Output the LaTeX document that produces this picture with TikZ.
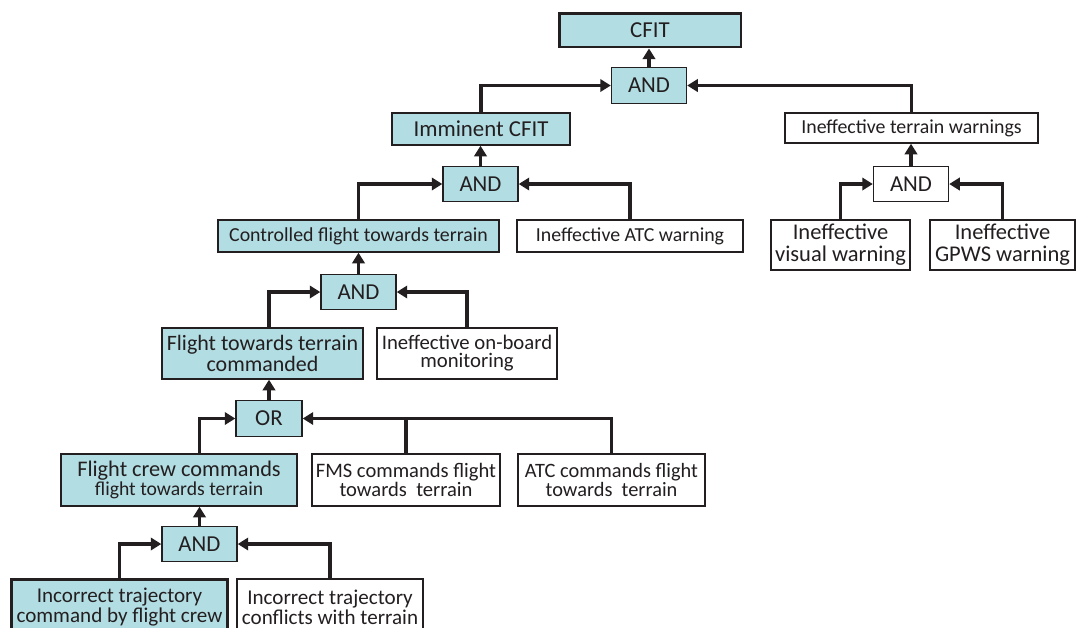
\documentclass[tikz,border=0pt]{standalone}
\usepackage{fontspec}
\setmainfont{Carlito}
\usetikzlibrary{
  arrows.meta,
  calc
}
\definecolor{eventblue}{RGB}{178,221,227}
\definecolor{inkgray}{RGB}{35,31,32}
\tikzset{
  box/.style={
    draw=inkgray,
    text=inkgray,
    line width=0.8pt,
    inner sep=0pt,
    align=center,
    font=\fontsize{11.3}{10.5}\selectfont
  },
  event/.style={box, fill=eventblue},
  basic/.style={box, fill=white},
  gate/.style={
    event,
    minimum width=1.5cm,
    minimum height=0.71cm,
    font=\fontsize{13}{13}\selectfont
  },
  link/.style={
    draw=inkgray,
    line width=1.8pt,
    -{Triangle[length=6pt,width=7pt]}
  },
  branch/.style={draw=inkgray, line width=1.8pt}
}

\begin{document}
\begin{tikzpicture}[x=0.02cm, y=-0.02cm]
\useasboundingbox (0,0) rectangle (1077,627);
\clip (0,0) rectangle (1077,627);
% top of the tree
\node[event, line width=1.7pt, minimum width=3.64cm, minimum height=0.68cm,
  font=\fontsize{13}{13}\selectfont] (cfit) at (650,30) {CFIT};
\node[gate] (andA) at (649,85.5) {AND};
\node[event, minimum width=3.56cm, minimum height=0.64cm,
  font=\fontsize{13}{13}\selectfont] (imminent) at (481,129) {Imminent CFIT};
\node[basic, minimum width=5.06cm, minimum height=0.6cm] (warnings)
  at (911.5,128) {Ineffective terrain warnings};
% warnings branch
\node[gate, fill=white] (andE) at (911,184) {AND};
\node[basic, minimum width=2.78cm, minimum height=1cm,
  font=\fontsize{12.8}{12.5}\selectfont] (visual) at (840.5,245)
  {Ineffective\\visual warning};
\node[basic, minimum width=2.9cm, minimum height=1cm,
  font=\fontsize{12.8}{12.5}\selectfont] (gpws) at (1002.5,245)
  {Ineffective\\GPWS warning};
% controlled flight branch
\node[gate] (andB) at (480.5,184) {AND};
\node[event, minimum width=5.62cm, minimum height=0.64cm] (controlled)
  at (358.5,236) {Controlled flight towards terrain};
\node[basic, minimum width=4.52cm, minimum height=0.64cm] (atcwarn)
  at (630,236) {Ineffective ATC warning};
\node[gate] (andC) at (358.5,292) {AND};
\node[event, minimum width=4.02cm, minimum height=1.02cm,
  font=\fontsize{12.5}{10.3}\selectfont] (commanded) at (262.5,353.5)
  {Flight towards terrain\\commanded};
\node[basic, minimum width=3.6cm, minimum height=1.02cm,
  font=\fontsize{11.8}{10.3}\selectfont] (onboard) at (467,353.5)
  {Ineffective on-board\\monitoring};
\node[gate, minimum width=1.32cm] (orgate) at (269,418.5) {OR};
\node[event, minimum width=4.72cm, minimum height=1.04cm,
  font=\fontsize{12.7}{9.8}\selectfont] (crew) at (179,480)
  {Flight crew commands\\{\fontsize{11.2}{9.8}\selectfont flight towards terrain}};
\node[basic, minimum width=3.76cm, minimum height=1.04cm,
  font=\fontsize{11.7}{10.8}\selectfont] (fms) at (406,480)
  {FMS commands flight\\towards~~terrain};
\node[basic, minimum width=3.74cm, minimum height=1.04cm,
  font=\fontsize{11.6}{10.8}\selectfont] (atccmd) at (611.5,480)
  {ATC commands flight\\towards~~terrain};
\node[gate] (andD) at (199.5,544) {AND};
\node[event, line width=1.7pt, minimum width=4.34cm, minimum height=1.12cm,
  font=\fontsize{12}{10.3}\selectfont] (incorrect) at (119.5,607)
  {Incorrect trajectory\\command by flight crew};
\node[basic, minimum width=3.72cm, minimum height=1.12cm,
  font=\fontsize{12}{10.3}\selectfont] (conflicts) at (330,607)
  {Incorrect trajectory\\conflicts with terrain};
% connectors
\draw[link] (andA.north) -- (andA.north |- cfit.south);
\draw[link] (imminent.north) |- (andA.west);
\draw[link] (warnings.north) |- (andA.east);
\draw[link] (andE.north) -- (andE.north |- warnings.south);
\draw[link] (visual.north) |- (andE.west);
\draw[link] (gpws.north) |- (andE.east);
\draw[link] (andB.north) -- (andB.north |- imminent.south);
\draw[link] (controlled.north) |- (andB.west);
\draw[link] (atcwarn.north) |- (andB.east);
\draw[link] (andC.north) -- (andC.north |- controlled.south);
\draw[link] (commanded.north -| orgate.north) |- (andC.west);
\draw[link] (onboard.north) |- (andC.east);
\draw[link] (orgate.north) -- (orgate.north |- commanded.south);
\draw[link] (crew.north -| andD.north) |- (orgate.west);
\draw[link] (atccmd.north) |- (orgate.east);
\draw[branch] (fms.north) -- (fms.north |- orgate.east);
\draw[link] (andD.north) -- (andD.north |- crew.south);
\draw[link] (incorrect.north) |- (andD.west);
\draw[link] (conflicts.north) |- (andD.east);
\end{tikzpicture}
\end{document}
